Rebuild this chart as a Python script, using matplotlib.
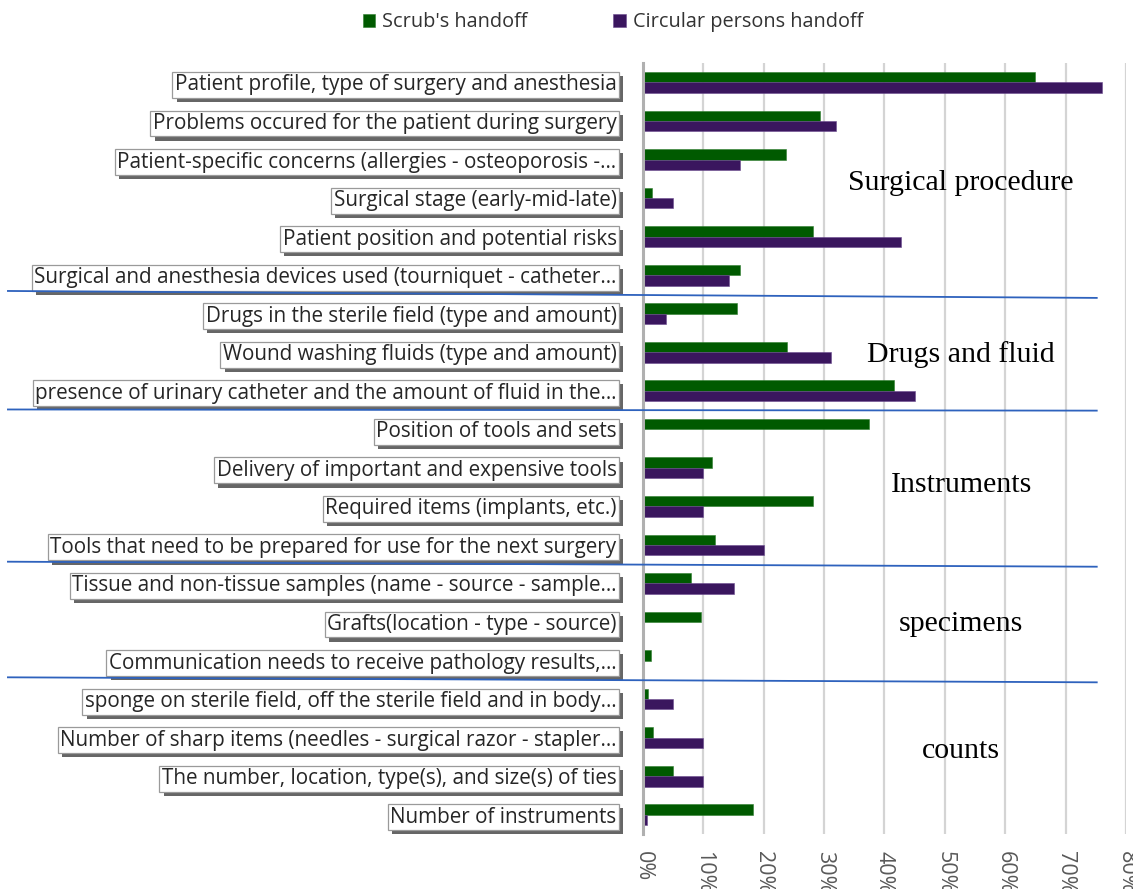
import matplotlib
matplotlib.use('Agg')
import matplotlib.pyplot as plt
import matplotlib.patheffects as pe
from matplotlib.ticker import PercentFormatter, MultipleLocator
import numpy as np

plt.rcParams['font.family'] = ['Open Sans', 'DejaVu Sans']

# data
categories = [
    "Patient profile, type of surgery and anesthesia",
    "Problems occured for the patient during surgery",
    "Patient-specific concerns (allergies - osteoporosis -…",
    "Surgical stage (early-mid-late)",
    "Patient position and potential risks",
    "Surgical and anesthesia devices used (tourniquet - catheter…",
    "Drugs in the sterile field (type and amount)",
    "Wound washing fluids (type and amount)",
    "presence of urinary catheter and the amount of fluid in the…",
    "Position of tools and sets",
    "Delivery of important and expensive tools",
    "Required items (implants, etc.)",
    "Tools that need to be prepared for use for the next surgery",
    "Tissue and non-tissue samples (name - source - sample…",
    "Grafts(location - type - source)",
    "Communication needs to receive pathology results,…",
    "sponge on sterile field, off the sterile field and in body…",
    "Number of sharp items (needles - surgical razor - stapler…",
    "The number, location, type(s), and size(s) of ties",
    "Number of instruments",
]
scrub = [65, 29.3, 23.7, 1.5, 28.1, 16, 15.6, 23.8, 41.6, 37.4,
         11.5, 28.1, 11.9, 8, 9.6, 1.3, 0.9, 1.6, 5, 18.3]
circular = [76, 32, 16, 5, 42.7, 14.2, 3.8, 31.1, 45, 0,
            10, 10, 20, 15, 0, 0, 5, 10, 10, 0.7]

groups = ["Surgical procedure", "Drugs and fluid", "Instruments",
          "specimens", "counts"]
group_rows = [2.6, 7.07, 10.44, 14.04, 17.36]
group_x = 52.7
separators = [5.5, 8.5, 12.5, 15.5]
sep_tilt = [0.18, 0.03, 0.13, 0.13]

green = "#005a00"
purple = "#3a165e"

fig = plt.figure(figsize=(11.33, 8.89), dpi=100)
ax = fig.add_axes([0.5675, 0.0619, 0.4263, 0.867])

y = np.arange(len(categories))
h = 0.27
ax.barh(y - h / 2, scrub, height=h, color=green, edgecolor="#2f7f2f",
        linewidth=0.4, label="Scrub's handoff", zorder=3)
ax.barh(y + h / 2, circular, height=h, color=purple, edgecolor="#6a4a8e",
        linewidth=0.4, label="Circular persons handoff", zorder=3)

ax.set_xlim(0, 80)
ax.set_ylim(len(categories) - 0.5, -0.5)
ax.xaxis.set_major_locator(MultipleLocator(10))
ax.xaxis.set_major_formatter(PercentFormatter(decimals=0))
ax.grid(axis='x', color="#d4d4d4", linewidth=1.6, zorder=0)
for s in ['top', 'right', 'bottom']:
    ax.spines[s].set_visible(False)
ax.spines['left'].set_color("#b0b0b0")
ax.spines['left'].set_linewidth(2.2)
ax.spines['left'].set_zorder(4)

ax.tick_params(axis='x', length=0, pad=12, labelsize=15.5,
               labelcolor="#595959", labelrotation=-90)
ax.tick_params(axis='y', length=0, pad=19, labelsize=14.9,
               labelcolor="#262626")
ax.set_yticks(y)
ax.set_yticklabels(categories)
for lab in ax.get_yticklabels():
    lab.set_bbox(dict(boxstyle="square,pad=0.12", facecolor="white",
                      edgecolor="#9a9a9a", linewidth=0.9))
    lab.get_bbox_patch().set_path_effects([
        pe.SimplePatchShadow(offset=(3, -3), shadow_rgbFace="black",
                             alpha=0.6),
        pe.Normal()])

# group names
for name, r in zip(groups, group_rows):
    ax.text(group_x, r, name, ha='center', va='center', fontsize=21.5,
            family='Liberation Serif', color='black', zorder=5)

# separator lines across the whole figure
tr = matplotlib.transforms.blended_transform_factory(fig.transFigure,
                                                     ax.transData)
for yy, t in zip(separators, sep_tilt):
    ax.plot([0.007, 0.968], [yy - t / 2, yy + t / 2], transform=tr,
            color="#2e62bd", linewidth=1.3, clip_on=False, zorder=6)

fig.legend(loc='center', bbox_to_anchor=(0.541, 0.975), ncol=2,
           frameon=False, fontsize=14.3, handlelength=0.65,
           handleheight=0.65, columnspacing=4.3, handletextpad=0.35,
           labelcolor="#333333")

fig.savefig("out.png", dpi=100, facecolor="w")
